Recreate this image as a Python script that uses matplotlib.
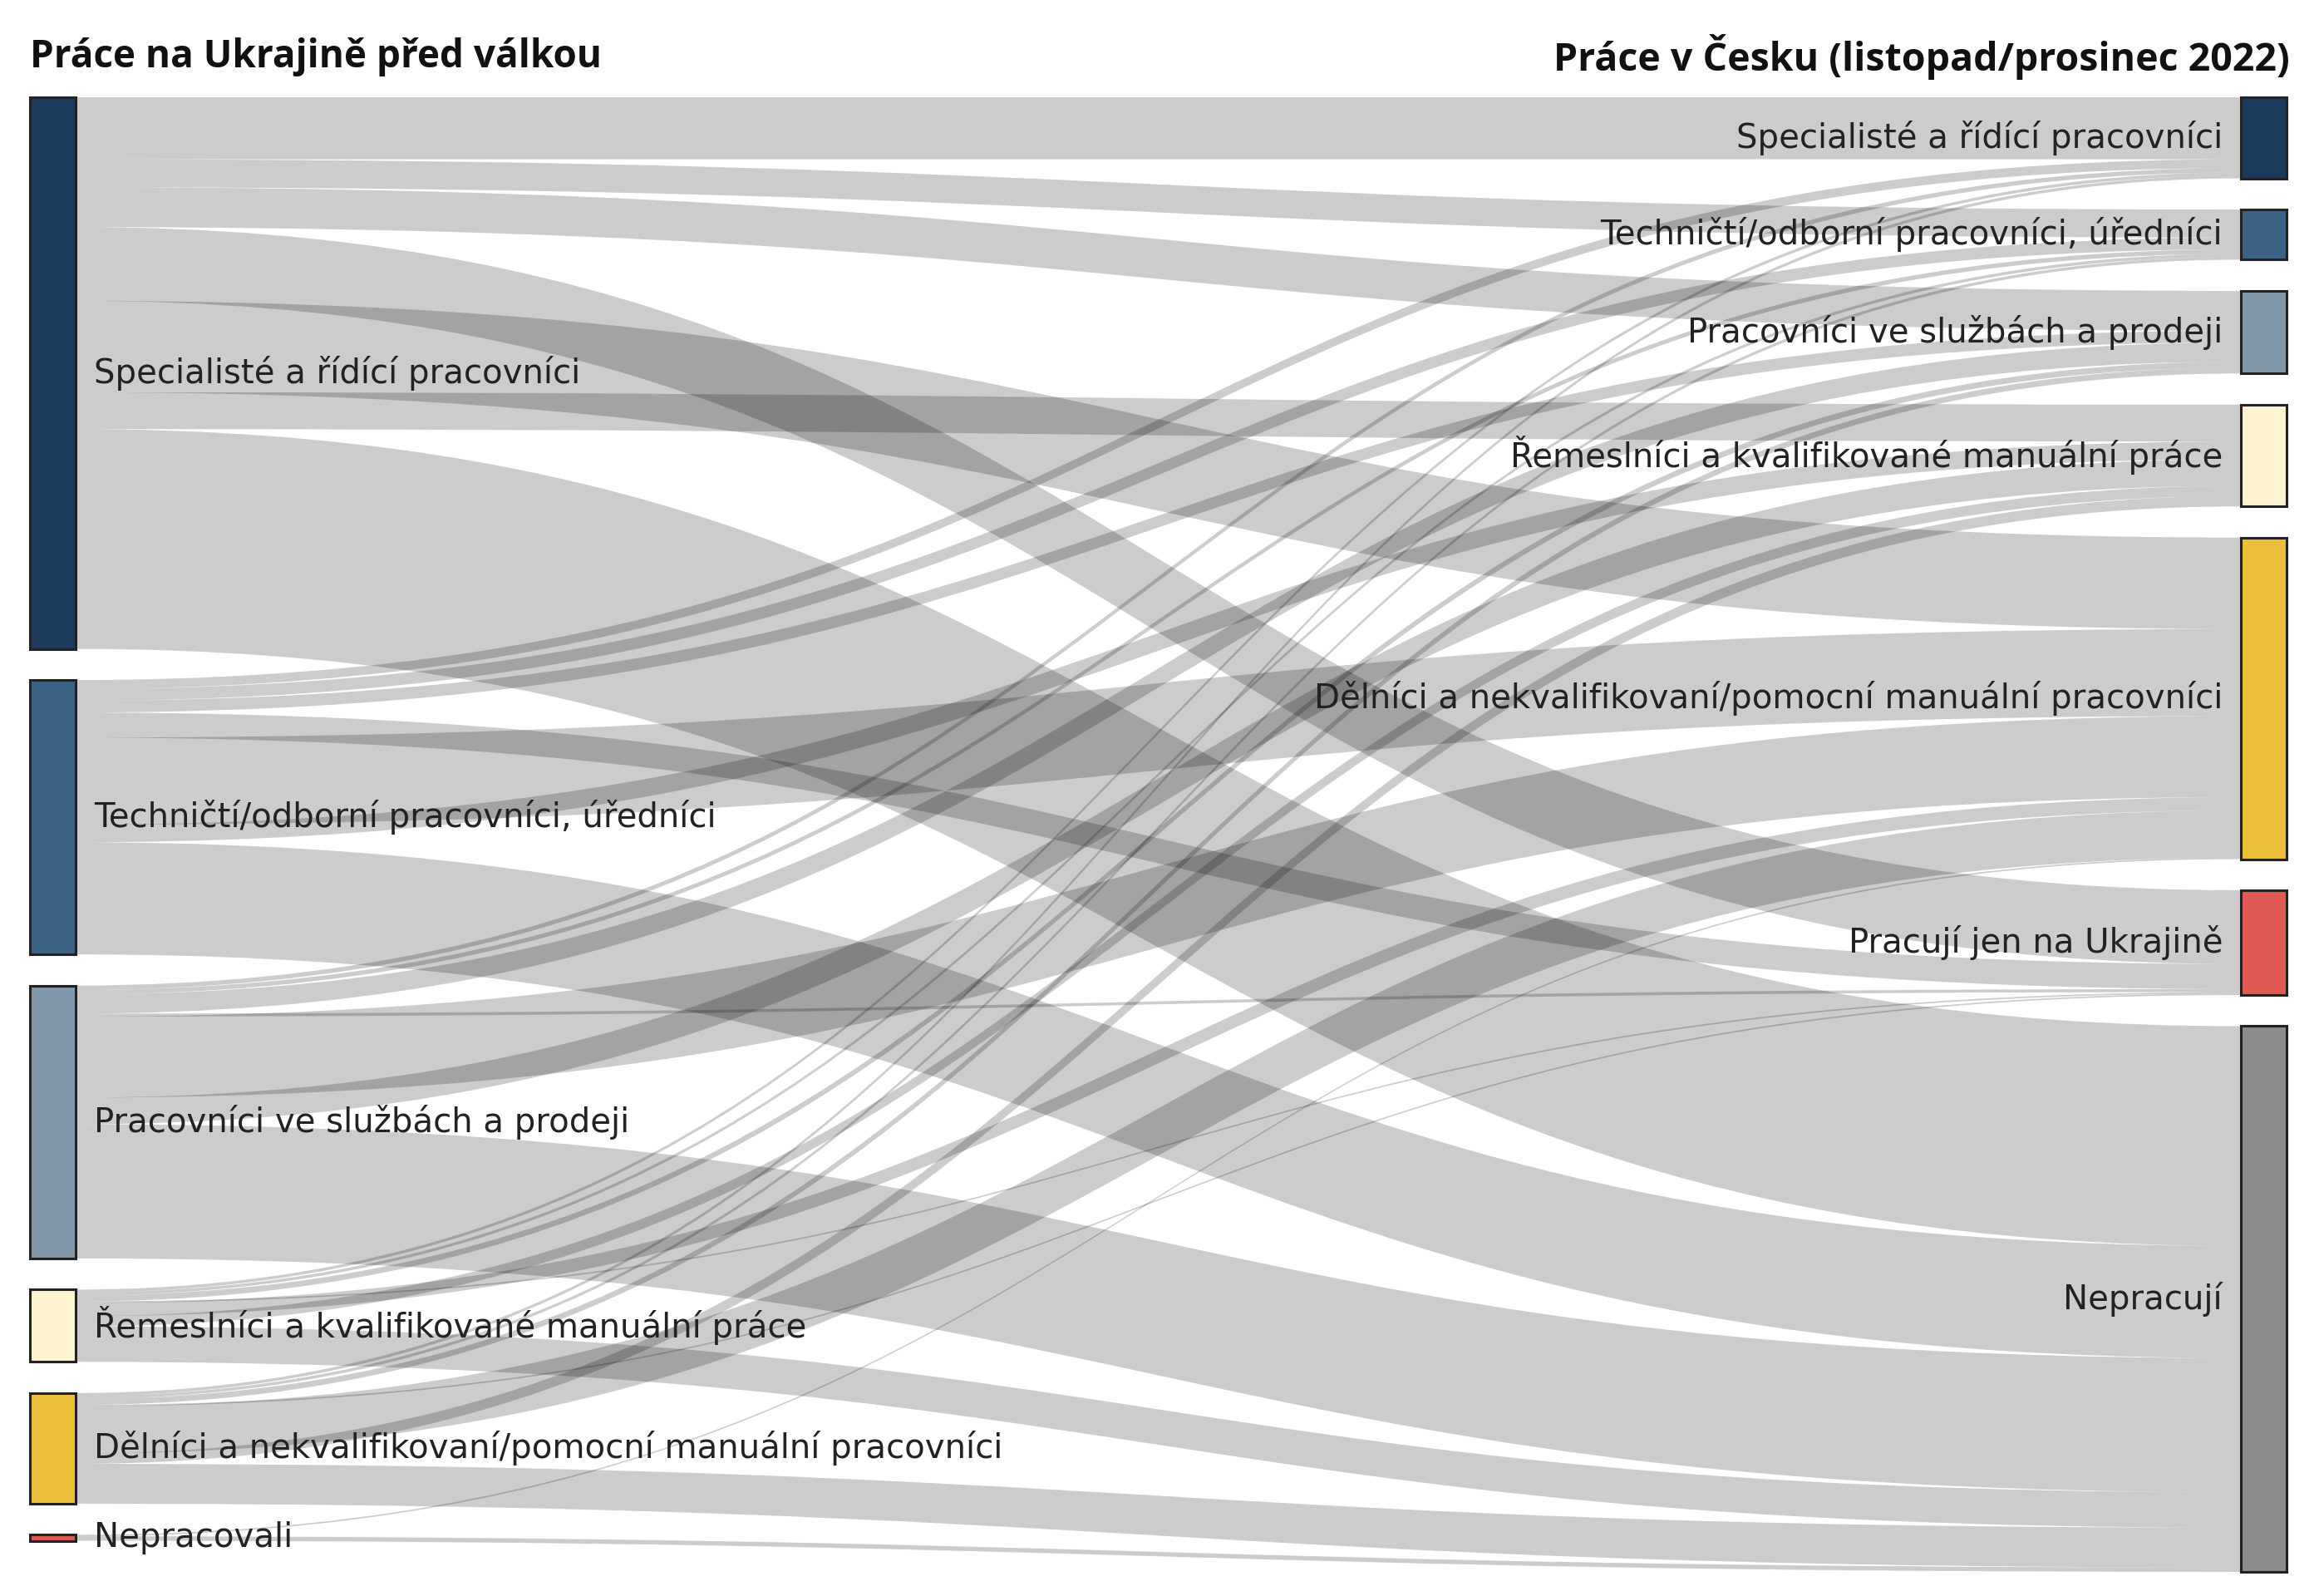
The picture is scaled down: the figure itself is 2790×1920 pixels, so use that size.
import matplotlib
matplotlib.use("Agg")
import matplotlib.pyplot as plt
from matplotlib.path import Path
from matplotlib.patches import PathPatch, Rectangle
import numpy as np

plt.rcParams['font.family'] = ['DejaVu Sans']

# ---------------- data ----------------
left_title = "Práce na Ukrajině před válkou"
right_title = "Práce v Česku (listopad/prosinec 2022)"

left_labels = ["Specialisté a řídící pracovníci",
               "Techničtí/odborní pracovníci, úředníci",
               "Pracovníci ve službách a prodeji",
               "Řemeslníci a kvalifikované manuální práce",
               "Dělníci a nekvalifikovaní/pomocní manuální pracovníci",
               "Nepracovali"]
right_labels = ["Specialisté a řídící pracovníci",
                "Techničtí/odborní pracovníci, úředníci",
                "Pracovníci ve službách a prodeji",
                "Řemeslníci a kvalifikované manuální práce",
                "Dělníci a nekvalifikovaní/pomocní manuální pracovníci",
                "Pracují jen na Ukrajině",
                "Nepracují"]

# flows from each left category to the right categories (same order as right_labels)
flows_specialiste = [42, 19, 27, 25, 62, 50, 149]
flows_technicti = [6, 8, 8, 12, 59, 17, 76]
flows_sluzby = [3, 3, 13, 18, 55, 2, 91]
flows_remeslnici = [2, 2, 4, 7, 9, 1, 24]
flows_delnici = [2, 2, 4, 7, 32, 1, 27]
flows_nepracovali = [0, 0, 0, 0, 1, 0, 3]

# order in which the links leave every left node (indices of right nodes)
link_order_at_source = [0, 1, 2, 5, 4, 3, 6]

left_colors = ["#1b3a5c", "#3b6185", "#8098aa", "#fff3d1", "#ecbf3b", "#e05a55"]
right_colors = ["#1b3a5c", "#3b6185", "#8098aa", "#fff3d1", "#ecbf3b", "#e05a55", "#8c8c8c"]

flows = np.array([flows_specialiste, flows_technicti, flows_sluzby,
                  flows_remeslnici, flows_delnici, flows_nepracovali], dtype=float)

# ---------------- layout ----------------
W, H = 2790, 1920
fig = plt.figure(figsize=(W / 100, H / 100), dpi=100)
ax = fig.add_axes([0, 0, 1, 1])
ax.set_xlim(0, W)
ax.set_ylim(H, 0)
ax.axis("off")

top = 117
bottom = 1891
pad = 37.5
xl0, xl1 = 36, 91
xr0, xr1 = 2696, 2751

left_tot = flows.sum(axis=1)
right_tot = flows.sum(axis=0)
k = (bottom - top - pad * (len(right_tot) - 1)) / right_tot.sum()

def positions(totals):
    ys = []
    y = top
    for t in totals:
        ys.append((y, y + t * k))
        y += t * k + pad
    return ys

lpos = positions(left_tot)
rpos = positions(right_tot)

src_off = [p[0] for p in lpos]
tgt_off = [p[0] for p in rpos]
src_start = {}
for i in range(flows.shape[0]):
    for j in link_order_at_source:
        src_start[(i, j)] = src_off[i]
        src_off[i] += flows[i, j] * k
tgt_start = {}
for j in range(flows.shape[1]):
    for i in range(flows.shape[0]):
        tgt_start[(i, j)] = tgt_off[j]
        tgt_off[j] += flows[i, j] * k

xm = (xl1 + xr0) / 2
for i in range(flows.shape[0]):
    for j in range(flows.shape[1]):
        v = flows[i, j]
        if v <= 0:
            continue
        w = v * k
        ys, yt = src_start[(i, j)], tgt_start[(i, j)]
        verts = [(xl1, ys), (xm, ys), (xm, yt), (xr0, yt),
                 (xr0, yt + w), (xm, yt + w), (xm, ys + w), (xl1, ys + w),
                 (xl1, ys)]
        codes = [Path.MOVETO, Path.CURVE4, Path.CURVE4, Path.CURVE4,
                 Path.LINETO, Path.CURVE4, Path.CURVE4, Path.CURVE4,
                 Path.CLOSEPOLY]
        ax.add_patch(PathPatch(Path(verts, codes), facecolor=(0, 0, 0, 0.2),
                               edgecolor="none", zorder=1))

for (y0, y1), c in zip(lpos, left_colors):
    ax.add_patch(Rectangle((xl0, y0), xl1 - xl0, y1 - y0, facecolor=c,
                           edgecolor="#222222", linewidth=2.2, zorder=3))
for (y0, y1), c in zip(rpos, right_colors):
    ax.add_patch(Rectangle((xr0, y0), xr1 - xr0, y1 - y0, facecolor=c,
                           edgecolor="#222222", linewidth=2.2, zorder=3))

fs = 29
for (y0, y1), lab in zip(lpos, left_labels):
    ax.text(xl1 + 22, (y0 + y1) / 2, lab, ha="left", va="center",
            fontsize=fs, color="#222222", zorder=4)
for (y0, y1), lab in zip(rpos, right_labels):
    ax.text(xr0 - 22, (y0 + y1) / 2, lab, ha="right", va="center",
            fontsize=fs, color="#222222", zorder=4)

ax.text(xl0, 68, left_title, ha="left", va="center", fontsize=33,
        fontweight="bold", color="#111111", family=["Open Sans", "DejaVu Sans"])
ax.text(xr1 + 4, 68, right_title, ha="right", va="center", fontsize=33.5,
        fontweight="bold", color="#111111", family=["Open Sans", "DejaVu Sans"])

fig.savefig("out.png", dpi=100, facecolor="white")
